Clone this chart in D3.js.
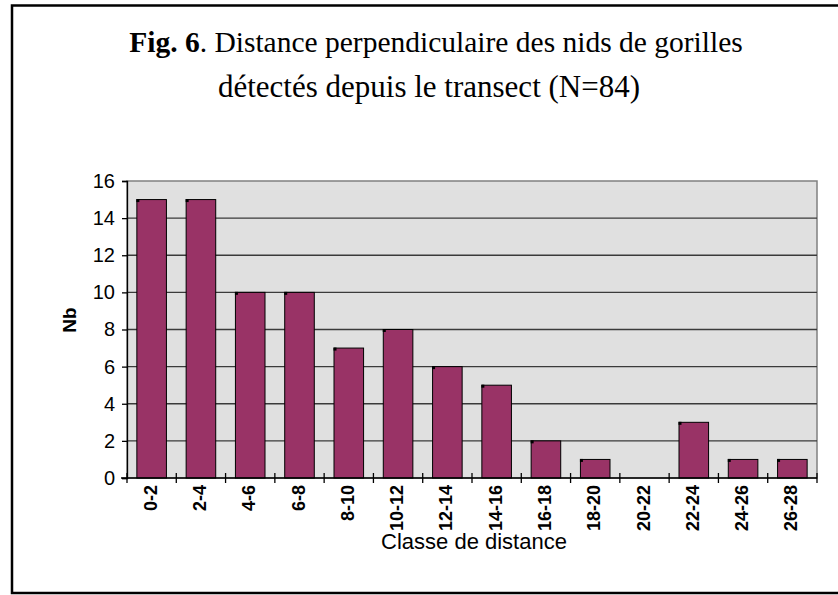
<!DOCTYPE html>
<html><head><meta charset="utf-8">
<script src="https://cdn.jsdelivr.net/npm/d3@7"></script>
<style>body{margin:0;background:#fff}svg{display:block}</style>
</head><body>
<script>
const categories = ["0-2","2-4","4-6","6-8","8-10","10-12","12-14","14-16","16-18","18-20","20-22","22-24","24-26","26-28"];
const counts = [15,15,10,10,7,8,6,5,2,1,0,3,1,1];
const yTicks = [0,2,4,6,8,10,12,14,16];
const titleBold = "Fig. 6";
const titleRest = ". Distance perpendiculaire des nids de gorilles";
const titleLine2 = "détectés depuis le transect (N=84)";
const xTitle = "Classe de distance";
const yTitle = "Nb";

const W = 838, H = 595;
const svg = d3.select("body").append("svg").attr("width", W).attr("height", H);
svg.append("rect").attr("width", W).attr("height", H).attr("fill", "#fff");
svg.append("rect").attr("x", 12).attr("y", 5.5).attr("width", 860).attr("height", 587.5)
  .attr("fill", "none").attr("stroke", "#000").attr("stroke-width", 2.5);

const L = 127, R = 817, T = 181, B = 478;
const x = d3.scaleBand().domain(categories).range([L, R]).paddingInner(0.4).paddingOuter(0.2);
const y = d3.scaleLinear().domain([0, 16]).range([B, T]);

svg.append("rect").attr("x", L).attr("y", T).attr("width", R - L).attr("height", B - T)
  .attr("fill", "#e0e0e0").attr("stroke", "#808080").attr("stroke-width", 1.5);

svg.append("g").selectAll("line").data(yTicks.filter(d => d > 0 && d < 16)).join("line")
  .attr("x1", L).attr("x2", R).attr("y1", d => y(d)).attr("y2", d => y(d))
  .attr("stroke", "#3a3a3a").attr("stroke-width", 1.3);

const bars = svg.append("g");
bars.selectAll("rect").data(counts).join("rect")
  .attr("x", (d, i) => x(categories[i])).attr("y", d => y(d))
  .attr("width", x.bandwidth()).attr("height", d => B - y(d))
  .attr("fill", "#993366").attr("stroke", "#000").attr("stroke-width", 1)
  .attr("display", d => d > 0 ? null : "none");
bars.selectAll("rect.c").data(counts).join("rect").attr("class", "c")
  .attr("x", (d, i) => x(categories[i]) - 0.5).attr("y", d => y(d) - 0.5)
  .attr("width", 3).attr("height", 3).attr("fill", "#000")
  .attr("display", d => d > 0 ? null : "none");

// y axis
const yAxis = d3.axisLeft(y).tickValues(yTicks).tickSize(5).tickPadding(7);
const gy = svg.append("g").attr("transform", `translate(${L},0)`).call(yAxis);
gy.select(".domain").attr("stroke", "#000").attr("stroke-width", 1.3);
gy.selectAll(".tick line").attr("stroke", "#000").attr("stroke-width", 1.3);
gy.selectAll("text").attr("font-family", "Arial, 'Liberation Sans', sans-serif").attr("font-size", 20).attr("fill", "#000");

// x axis
const xb = d3.scaleLinear().domain([0, categories.length]).range([L, R]);
const gx = svg.append("g");
gx.append("line").attr("x1", L - 6).attr("x2", R).attr("y1", B).attr("y2", B).attr("stroke", "#000").attr("stroke-width", 1.3);
gx.selectAll("line.t").data(d3.range(categories.length + 1)).join("line").attr("class", "t")
  .attr("x1", d => xb(d)).attr("x2", d => xb(d)).attr("y1", B - 5).attr("y2", B + 5)
  .attr("stroke", "#000").attr("stroke-width", 1.3);
gx.selectAll("text").data(categories).join("text")
  .attr("transform", d => `translate(${x(d) + x.bandwidth() / 2 + 5},${B + 7}) rotate(-90)`)
  .attr("text-anchor", "end")
  .attr("font-family", "Arial, 'Liberation Sans', sans-serif").attr("font-size", 18).attr("font-weight", "bold")
  .text(d => d);

svg.append("text").attr("x", 474).attr("y", 549).attr("text-anchor", "middle")
  .attr("font-family", "Arial, 'Liberation Sans', sans-serif").attr("font-size", 22).text(xTitle);

svg.append("text").attr("transform", `translate(76,320) rotate(-90)`).attr("text-anchor", "middle")
  .attr("font-family", "Arial, 'Liberation Sans', sans-serif").attr("font-size", 19).attr("font-weight", "bold").text(yTitle);

const t1 = svg.append("text").attr("x", 436).attr("y", 52).attr("text-anchor", "middle")
  .attr("font-family", "'Times New Roman', 'Liberation Serif', serif").attr("font-size", 29.5);
t1.append("tspan").attr("font-weight", "bold").text(titleBold);
t1.append("tspan").text(titleRest);
svg.append("text").attr("x", 429).attr("y", 97).attr("text-anchor", "middle")
  .attr("font-family", "'Times New Roman', 'Liberation Serif', serif").attr("font-size", 31).text(titleLine2);
</script>
</body></html>
